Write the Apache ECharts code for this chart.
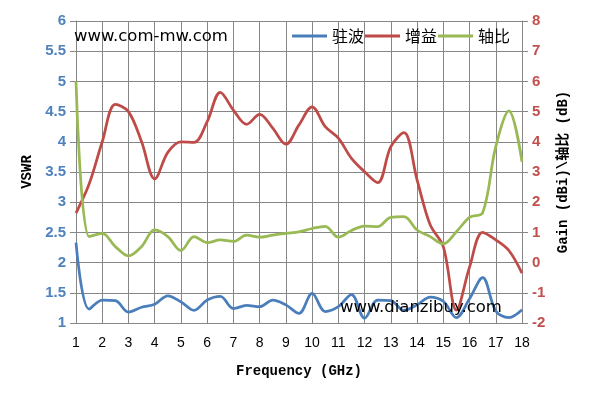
<!DOCTYPE html>
<html>
<head>
<meta charset="utf-8">
<script src="https://cdn.jsdelivr.net/npm/echarts@6/dist/echarts.min.js"></script>
<style>html,body{margin:0;padding:0;background:#fff}#c{width:593px;height:404px}</style>
</head>
<body>
<div id="c"></div>
<script>
var freqs = [1,1.5,2,2.5,3,3.5,4,4.5,5,5.5,6,6.5,7,7.5,8,8.5,9,9.5,10,10.5,11,11.5,12,12.5,13,13.5,14,14.5,15,15.5,16,16.5,17,17.5,18];
var vswr = [2.33,1.23,1.38,1.37,1.18,1.26,1.31,1.45,1.35,1.21,1.38,1.44,1.24,1.29,1.27,1.38,1.30,1.16,1.49,1.19,1.27,1.47,1.08,1.38,1.37,1.21,1.30,1.43,1.36,1.09,1.40,1.75,1.20,1.09,1.22];
var gain = [1.64,2.6,4.0,5.24,5.0,4.0,2.77,3.65,4.0,3.98,4.67,5.64,5.05,4.58,4.91,4.45,3.92,4.56,5.16,4.5,4.12,3.45,3.01,2.65,3.84,4.3,2.74,1.25,0.53,-1.57,-0.15,1.0,0.75,0.4,-0.35];
var axialRatio = [6.0,0.86,0.97,0.53,0.22,0.53,1.08,0.86,0.4,0.86,0.66,0.75,0.7,0.91,0.84,0.91,0.97,1.02,1.13,1.2,0.84,1.06,1.21,1.19,1.5,1.52,1.08,0.86,0.62,1.02,1.5,1.65,3.84,5.02,3.34];
var seriesNames = ['驻波','增益','轴比'];
var xTitle = 'Frequency (GHz)';
var leftTitle = 'VSWR';
var rightTitle = 'Gain (dBi)\\轴比 (dB)';

function pairs(arr){ return freqs.map(function(f,i){ return [f, arr[i]]; }); }

var chart = echarts.init(document.getElementById('c'), null, {renderer:'canvas'});
var gridColor = '#868686';
var titleFont = '"Liberation Mono","Noto Sans CJK SC",monospace';
chart.setOption({
  backgroundColor:'#ffffff',
  animation:false,
  grid:{left:76, right:71, top:21, bottom:81, containLabel:false},
  legend:{
    data:seriesNames, left:292, top:28, padding:0, icon:'rect', itemWidth:35, itemHeight:3, itemGap:1,
    textStyle:{fontSize:16, color:'#000', fontFamily:'"Noto Sans CJK SC",sans-serif'}
  },
  xAxis:{
    type:'value', min:1, max:18, interval:1,
    name:xTitle, nameLocation:'middle', nameGap:41,
    nameTextStyle:{fontFamily:titleFont, fontWeight:'bold', fontSize:14, color:'#000'},
    axisLine:{show:true, lineStyle:{color:gridColor, width:1}},
    axisTick:{show:true, length:6, lineStyle:{color:gridColor}},
    axisLabel:{margin:13, fontSize:14, color:'#000', fontFamily:'"Liberation Sans",Arial,sans-serif'},
    splitLine:{show:true, lineStyle:{color:gridColor, width:1}}
  },
  yAxis:[{
    type:'value', min:1, max:6, interval:0.5, position:'left',
    name:leftTitle, nameLocation:'middle', nameGap:41, nameRotate:90,
    nameTextStyle:{fontFamily:titleFont, fontWeight:'bold', fontSize:14, color:'#000'},
    axisLine:{show:true, lineStyle:{color:gridColor, width:1}},
    axisTick:{show:true, length:6, lineStyle:{color:gridColor}},
    axisLabel:{margin:10, fontSize:15, fontWeight:'bold', color:'#4F81BD', fontFamily:'"Liberation Sans",Arial,sans-serif'},
    splitLine:{show:true, lineStyle:{color:gridColor, width:1}}
  },{
    type:'value', min:-2, max:8, interval:1, position:'right',
    name:rightTitle, nameLocation:'middle', nameGap:34, nameRotate:90,
    nameTextStyle:{fontFamily:titleFont, fontWeight:'bold', fontSize:14, color:'#000'},
    axisLine:{show:true, lineStyle:{color:gridColor, width:1}},
    axisTick:{show:true, length:6, lineStyle:{color:gridColor}},
    axisLabel:{margin:10, fontSize:15, fontWeight:'bold', color:'#C0504D', fontFamily:'"Liberation Sans",Arial,sans-serif'},
    splitLine:{show:false}
  }],
  series:[
    {name:seriesNames[0], type:'line', yAxisIndex:0, data:pairs(vswr), smooth:0.35, symbol:'none', lineStyle:{color:'#4A7EBB', width:2.75}, itemStyle:{color:'#4A7EBB'}},
    {name:seriesNames[1], type:'line', yAxisIndex:1, data:pairs(gain), smooth:0.35, symbol:'none', lineStyle:{color:'#BE4B48', width:2.75}, itemStyle:{color:'#BE4B48'}},
    {name:seriesNames[2], type:'line', yAxisIndex:1, data:pairs(axialRatio), smooth:0.35, symbol:'none', lineStyle:{color:'#98B954', width:2.75}, itemStyle:{color:'#98B954'}}
  ],
  graphic:[
    {type:'text', left:74, top:28, z:100, style:{text:'www.com-mw.com', font:'16.5px "DejaVu Sans",sans-serif', fill:'#000', shadowColor:'rgba(0,0,0,0.45)', shadowBlur:3, shadowOffsetX:2, shadowOffsetY:2}},
    {type:'text', left:340, top:299, z:100, style:{text:'www.dianzibuy.com', font:'16.5px "DejaVu Sans",sans-serif', fill:'#000', shadowColor:'rgba(0,0,0,0.45)', shadowBlur:3, shadowOffsetX:2, shadowOffsetY:2}}
  ]
});
</script>
</body>
</html>
